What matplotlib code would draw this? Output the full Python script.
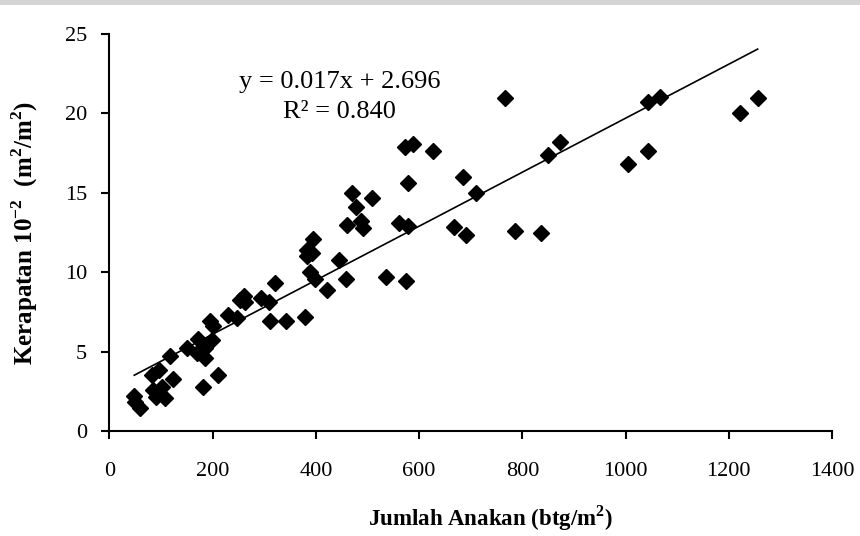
import matplotlib
matplotlib.use("Agg")
import matplotlib.pyplot as plt
import numpy as np
from matplotlib.patches import Rectangle

plt.rcParams['font.family'] = ['Liberation Serif', 'DejaVu Serif']
plt.rcParams['mathtext.fontset'] = 'custom'
plt.rcParams['mathtext.rm'] = 'Liberation Serif'
plt.rcParams['mathtext.bf'] = 'Liberation Serif:bold'

# jumlah anakan (btg/m2)
anakan = [48, 49, 59, 82, 95, 85, 91, 101, 108, 117, 124,
          150, 169, 172, 182, 185, 186, 195, 198, 201, 210,
          230, 248, 253, 260, 263, 294, 310, 312, 321, 343,
          379, 382, 392, 382, 389, 395, 398, 421, 445, 458,
          461, 469, 478, 487, 492, 508, 536, 561, 575, 572,
          579, 579, 588, 627, 668, 686, 691, 710, 767, 785,
          836, 850, 873, 1004, 1043, 1043, 1066, 1222, 1256]
# kerapatan 10^-2 (m2/m2)
kerapatan = [2.2, 1.85, 1.43, 3.5, 3.85, 2.6, 2.15, 2.8, 2.05, 4.75, 3.25,
             5.2, 4.9, 5.8, 2.8, 5.2, 4.6, 6.9, 5.7, 6.6, 3.5,
             7.3, 7.1, 8.25, 8.5, 8.1, 8.4, 8.1, 6.9, 9.3, 6.95,
             7.2, 11.4, 11.2, 11.0, 10.0, 12.1, 9.55, 8.85, 10.75, 9.55,
             13.0, 15.0, 14.1, 13.2, 12.8, 14.65, 9.7, 13.1, 9.45, 17.9,
             12.9, 15.6, 18.1, 17.6, 12.85, 16.0, 12.35, 15.0, 20.95, 12.6,
             12.45, 17.4, 18.2, 16.8, 17.6, 20.7, 21.05, 20.0, 21.0]

slope = 0.017
intercept = 2.696
r2 = 0.840

fig = plt.figure(figsize=(8.6, 5.36), dpi=100)
ax = fig.add_axes([0.1273, 0.1959, 0.8401, 0.7407])

# grey strip from the scanned page at the top
fig.patches.append(Rectangle((0, 1 - 5 / 536), 1, 5 / 536, transform=fig.transFigure,
                             facecolor='#d4d4d4', edgecolor='none'))

ax.plot(anakan, kerapatan, linestyle='none', marker='D', markersize=8.3,
        color='black', zorder=3)

xs = np.array([min(anakan), max(anakan)])
ax.plot(xs, slope * xs + intercept, color='black', linewidth=1.2, zorder=2)

fig.text(340 / 860, 1 - 82 / 536, f'y = {slope:.3f}x + {intercept:.3f}',
         ha='center', va='center', fontsize=19)
fig.text(339 / 860, 1 - 112 / 536, f'R² = {r2:.3f}',
         ha='center', va='center', fontsize=19)

ax.set_xlim(0, 1400)
ax.set_ylim(0, 25)
ax.set_xticks(range(0, 1401, 200))
ax.set_yticks(range(0, 26, 5))
ax.spines['top'].set_visible(False)
ax.spines['right'].set_visible(False)
ax.spines['left'].set_linewidth(1.5)
ax.spines['bottom'].set_linewidth(1.5)
ax.tick_params(direction='out', length=6, width=1.5, labelsize=16)
ax.tick_params(axis='x', pad=16)
ax.tick_params(axis='y', pad=10)

ax.set_xlabel('Jumlah Anakan (btg/m$^{\\mathbf{2}}$)', fontsize=16.5,
              fontweight='bold')
ax.xaxis.set_label_coords(0.528, -0.183)
ax.set_ylabel('Kerapatan 10$^{\\mathbf{-2}}$  (m$^{\\mathbf{2}}$/m$^{\\mathbf{2}}$)',
              fontsize=18, fontweight='bold', labelpad=18)

fig.savefig('out.png', dpi=100)
